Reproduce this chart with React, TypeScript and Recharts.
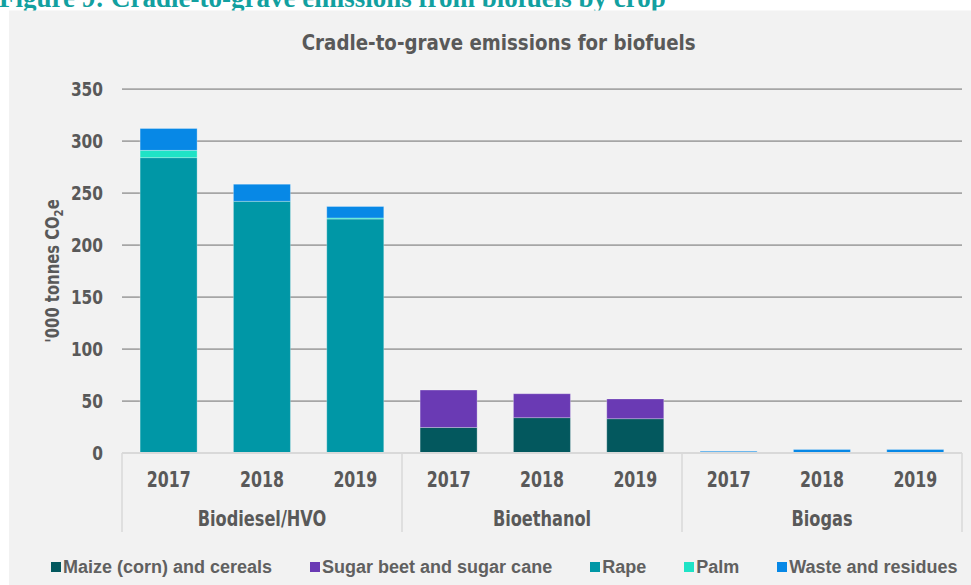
import React from 'react';
import { BarChart, Bar, XAxis, YAxis, CartesianGrid, Legend } from 'recharts';

// ---- data ----
const years = ['2017', '2018', '2019', '2017', '2018', '2019', '2017', '2018', '2019'];
const fuels = [
  'Biodiesel/HVO', 'Biodiesel/HVO', 'Biodiesel/HVO',
  'Bioethanol', 'Bioethanol', 'Bioethanol',
  'Biogas', 'Biogas', 'Biogas',
];
const maize = [null, null, null, 24.5, 34, 33, null, null, null];
const sugar = [null, null, null, 36, 23, 19, null, null, null];
const rape = [284, 242, 225, null, null, null, null, null, null];
const palm = [7, null, 1, null, null, null, null, null, null];
const waste = [21, 16.5, 11, null, null, null, 1.6, 3.4, 3.4];
const yTicks = [0, 50, 100, 150, 200, 250, 300, 350];

const seriesNames = ['Maize (corn) and cereals', 'Sugar beet and sugar cane', 'Rape', 'Palm', 'Waste and residues'];
const seriesKeys = ['maize', 'sugar', 'rape', 'palm', 'waste'];
const seriesColors = ['#03585e', '#6a3ab4', '#0097a6', '#1fe3c6', '#0788e6'];
const seriesValues = [maize, sugar, rape, palm, waste];

const data = years.map((y, i) => {
  const row: any = { idx: i, year: y, fuel: fuels[i] };
  seriesKeys.forEach((k, s) => {
    row[k] = seriesValues[s][i];
  });
  return row;
});

const TEXT = '#595959';
const FONT = "'DejaVu Sans', sans-serif";
const SQUEEZE = 0.77;

const XTick = (props: any) => {
  const { x, y, payload } = props;
  const i = Number(payload.value);
  const half = typeof payload.offset === 'number' ? payload.offset : 0;
  const sepLen = 79;
  return (
    <g>
      <g transform={`translate(${x},${y + 33.7}) scale(${SQUEEZE},1)`}>
        <text textAnchor="middle" fill={TEXT} fontFamily={FONT} fontWeight="bold" fontSize={20.5}>
          {years[i]}
        </text>
      </g>
      {i % 3 === 1 && (
        <g transform={`translate(${x},${y + 72.5}) scale(${SQUEEZE},1)`}>
          <text textAnchor="middle" fill={TEXT} fontFamily={FONT} fontWeight="bold" fontSize={21}>
            {fuels[i]}
          </text>
        </g>
      )}
      {i % 3 === 0 && (
        <line x1={x - half} x2={x - half} y1={y} y2={y + sepLen} stroke="#d9d9d9" strokeWidth={1.5} />
      )}
      {i === years.length - 1 && (
        <line x1={x + half} x2={x + half} y1={y} y2={y + sepLen} stroke="#d9d9d9" strokeWidth={1.5} />
      )}
    </g>
  );
};

const YTick = (props: any) => {
  const { x, y, payload } = props;
  return (
    <g transform={`translate(${x},${y}) scale(${SQUEEZE},1)`}>
      <text textAnchor="end" dy="0.36em" fill={TEXT} fontFamily={FONT} fontWeight="bold" fontSize={20}>
        {payload.value}
      </text>
    </g>
  );
};

const YLabel = (props: any) => {
  const vb = props.viewBox || { x: 0, y: 89, width: 122, height: 364 };
  const cx = vb.x + 52;
  const cy = vb.y + vb.height / 2;
  return (
    <g transform={`translate(${cx},${cy}) rotate(-90) scale(0.78,1)`}>
      <text textAnchor="middle" dy="0.35em" fill={TEXT} fontFamily={FONT} fontWeight="bold" fontSize={19}>
        '000 tonnes CO
        <tspan dy={4} fontSize={13}>2</tspan>
        <tspan dy={-4}>e</tspan>
      </text>
    </g>
  );
};

const LegendContent = () => (
  <div
    style={{
      display: 'flex',
      alignItems: 'center',
      height: 22,
      paddingLeft: 51,
      fontFamily: "'Liberation Sans', Arial, sans-serif",
      fontWeight: 'bold',
      fontSize: 18,
      color: '#606060',
      whiteSpace: 'nowrap',
    }}
  >
    {seriesNames.map((n, s) => (
      <div key={n} style={{ display: 'flex', alignItems: 'center', marginRight: 38 }}>
        <span style={{ display: 'inline-block', width: 10, height: 10, background: seriesColors[s], marginRight: 2 }} />
        <span>{n}</span>
      </div>
    ))}
  </div>
);

export default function App() {
  return (
    <div style={{ position: 'absolute', left: 0, top: 0, width: 971, height: 585, background: '#ffffff', overflow: 'hidden' }}>
      <svg width={971} height={585} style={{ position: 'absolute', left: 0, top: 0 }}>
        <text x={-1} y={7.3} fill="#12a0a0" fontFamily="'Liberation Serif', 'Times New Roman', serif" fontWeight="bold" fontSize={27}>
          Figure 9: Cradle-to-grave emissions from biofuels by crop
        </text>
        <rect x={9} y={10.5} width={962} height={575} fill="#f2f2f2" />
        <g transform="translate(498.7,50) scale(0.89,1)">
          <text textAnchor="middle" fill={TEXT} fontFamily={FONT} fontWeight="bold" fontSize={20.5}>
            Cradle-to-grave emissions for biofuels
          </text>
        </g>
      </svg>
      <div style={{ position: 'absolute', left: 0, top: 0 }}>
        <BarChart
          width={971}
          height={585}
          data={data}
          margin={{ top: 89, right: 9, bottom: 0, left: 0 }}
          barCategoryGap="19.4%"
        >
          <CartesianGrid vertical={false} stroke="#a6a6a6" strokeWidth={1.75} />
          <YAxis
            type="number"
            domain={[0, 350]}
            ticks={yTicks}
            interval={0}
            width={122}
            axisLine={false}
            tickLine={false}
            tickMargin={13}
            tick={<YTick />}
            label={{ content: <YLabel /> } as any}
          />
          <XAxis
            dataKey="idx"
            type="category"
            height={132}
            interval={0}
            tickLine={false}
            tickSize={0}
            tickMargin={0}
            axisLine={{ stroke: '#d9d9d9', strokeWidth: 2 }}
            tick={<XTick />}
          />
          {seriesKeys.map((k, s) => (
            <Bar
              key={k}
              dataKey={k}
              name={seriesNames[s]}
              stackId="a"
              fill={seriesColors[s]}
              stroke="rgba(255,255,255,0.35)"
              strokeWidth={0.8}
              isAnimationActive={false}
            />
          ))}
          <Legend
            layout="horizontal"
            verticalAlign="middle"
            align="center"
            wrapperStyle={{ top: 556, left: 0, width: 971, height: 22 }}
            content={<LegendContent />}
          />
        </BarChart>
      </div>
    </div>
  );
}
